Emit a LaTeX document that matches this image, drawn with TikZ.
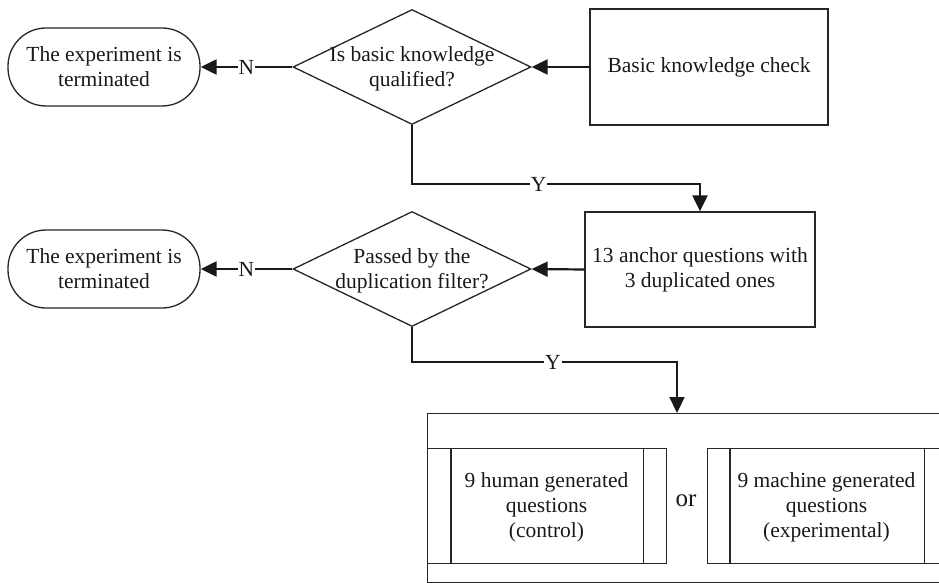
\documentclass[tikz,border=0pt]{standalone}
\usepackage{fontspec}
\setmainfont{Liberation Serif}
\usetikzlibrary{shapes.geometric,arrows.meta,calc}
\begin{document}
\begin{tikzpicture}[x=1pt,y=-1pt,
  every node/.style={font=\fontsize{21.5}{25}\selectfont, text=black!90},
  shapeline/.style={draw=black!85, line width=1.3pt},
  boxnode/.style={shapeline, rectangle, inner sep=0pt, align=center},
  term/.style={shapeline, rectangle, rounded corners=38pt, minimum width=192pt, minimum height=78pt, inner sep=0pt, align=center},
  decision/.style={shapeline, diamond, minimum width=238pt, minimum height=115pt, inner sep=0pt},
  conn/.style={draw=black!90, line width=2.2pt, -{Triangle[length=16pt,width=15pt]}},
  lbl/.style={fill=white, inner sep=1pt}]
\useasboundingbox (0,0) rectangle (939,583);
\clip (0,0) rectangle (939,583);

% row 1
\node[term] (t1) at (104,67) {The experiment is\\terminated};
\node[decision] (d1) at (412,67) {};
\node[align=center] (d1t) at (412,69) {Is basic knowledge\\qualified?};
\node[boxnode, minimum width=238pt, minimum height=116pt] (b1) at (709,67) {Basic knowledge check};

% row 2
\node[term] (t2) at (104,269) {The experiment is\\terminated};
\node[decision] (d2) at (412,269) {};
\node[align=center] (d2t) at (412,271) {Passed by the\\duplication filter?};
\node[boxnode, minimum width=230pt, minimum height=115pt] (b2) at (700,269.5) {13 anchor questions with\\3 duplicated ones};

% bottom group
\node[shapeline, rectangle, inner sep=0pt, minimum width=533pt, minimum height=169pt, anchor=north west] (ob) at (427,413) {};
\node[shapeline, rectangle, inner sep=0pt, minimum width=239pt, minimum height=115pt, anchor=north west] (hb) at (427,448) {};
\draw[shapeline] ($(hb.north west)+(24,0)$) -- ($(hb.south west)+(24,0)$);
\draw[shapeline] ($(hb.north east)+(-24,0)$) -- ($(hb.south east)+(-24,0)$);
\node[align=center] (hbt) at (546.5,507) {9 human generated\\questions\\(control)};
\node[shapeline, rectangle, inner sep=0pt, minimum width=240pt, minimum height=115pt, anchor=north west] (mb) at (707,448) {};
\draw[shapeline] ($(mb.north west)+(23,0)$) -- ($(mb.south west)+(23,0)$);
\draw[shapeline] ($(mb.north east)+(-24,0)$) -- ($(mb.south east)+(-24,0)$);
\node[align=center] (mbt) at (826.5,507) {9 machine generated\\questions\\(experimental)};
\node[font=\fontsize{25}{28}\selectfont] (or) at (686,501) {or};
\coordinate (obin) at ($(ob.north west)+(250,0)$);

% connectors
\draw[conn] (b1.west) -- (d1.east);
\draw[conn] (d1.west) -- node[lbl]{N} (t1.east);
\draw[conn] (d1.south) -- ++(0,59) -| node[lbl,pos=0.22]{Y} (b2.north);
\draw[conn] (b2.west) -- (d2.east);
\draw[conn] (d2.west) -- node[lbl]{N} (t2.east);
\draw[conn] (d2.south) -- ++(0,35) -| node[lbl,pos=0.266]{Y} (obin);
\end{tikzpicture}
\end{document}
